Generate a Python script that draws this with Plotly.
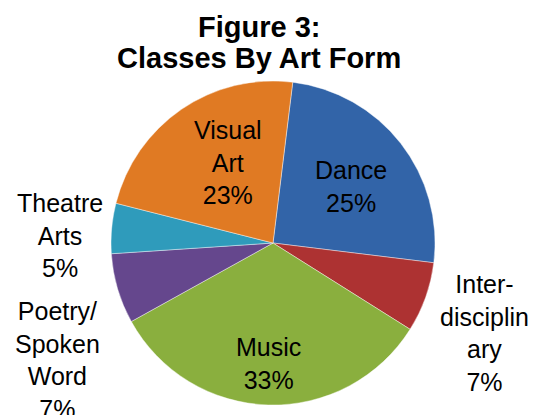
import plotly.graph_objects as go

# data (clockwise from the top)
art_forms = ["Dance", "Inter-<br>disciplin<br>ary", "Music",
             "Poetry/<br>Spoken<br>Word", "Theatre<br>Arts", "Visual<br>Art"]
shares = [25, 7, 33, 7, 5, 23]
colors = ["#3264a8", "#ad3232", "#8aaf3e", "#65478d", "#2f9bbb", "#e07a23"]

W, H = 536, 415
cx, cy, r = 273, 243, 162
FONT = "Liberation Sans, Arial, sans-serif"

fig = go.Figure()
fig.add_trace(go.Pie(
    labels=art_forms,
    values=shares,
    sort=False,
    direction="clockwise",
    rotation=7,
    marker=dict(colors=colors, line=dict(color="rgba(255,255,255,0.6)", width=0.7)),
    textinfo="none",
    domain=dict(x=[(cx - r) / W, (cx + r) / W], y=[(H - cy - r) / H, (H - cy + r) / H]),
    showlegend=False,
    hoverinfo="label+percent",
))

# data labels placed like the original (some in the slice, the thin ones outside)
label_spots = [(351, 187), (484, 333), (268, 363), (58, 360), (60, 235), (228, 162)]
total = sum(shares)
for i, (px, py) in enumerate(label_spots):
    fig.add_annotation(
        text=f"{art_forms[i]}<br>{round(100 * shares[i] / total)}%",
        x=px / W, y=1 - py / H, xref="paper", yref="paper",
        xanchor="center", yanchor="middle", showarrow=False,
        font=dict(family=FONT, size=25, color="black"),
    )

for line, py in [("Figure 3:", 27), ("Classes By Art Form", 58)]:
    fig.add_annotation(
        text=f"<b>{line}</b>", x=259 / W, y=1 - py / H,
        xref="paper", yref="paper", xanchor="center", yanchor="middle",
        showarrow=False, font=dict(family=FONT, size=29, color="black"),
    )

fig.update_layout(
    width=W, height=H,
    margin=dict(l=0, r=0, t=0, b=0),
    paper_bgcolor="white",
)

# the page body has a default margin that would push the figure off the window
fig.write_html("out.html", config={"displayModeBar": False},
               post_script="document.body.style.margin='0';")
